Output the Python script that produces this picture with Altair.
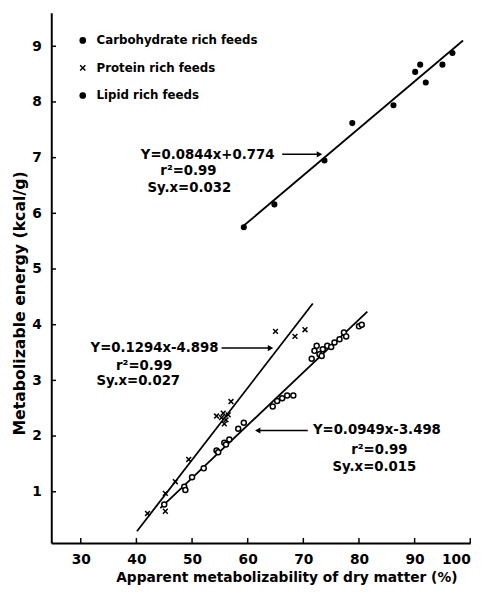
import altair as alt
import pandas as pd

FONT = "DejaVu Sans"

# ---------------- data ----------------
groups = ["Carbohydrate rich feeds", "Protein rich feeds", "Lipid rich feeds"]

carb_x = [45.0, 48.6, 48.8, 50.0, 52.1, 54.4, 54.7, 55.8, 56.1, 56.7, 58.3, 59.3,
          64.5, 65.3, 66.2, 67.1, 68.2, 71.5, 72.0, 72.4, 72.9, 73.3, 73.5, 74.3,
          75.0, 75.6, 76.5, 77.3, 77.7, 80.0, 80.5]
carb_y = [0.77, 1.09, 1.03, 1.26, 1.42, 1.74, 1.71, 1.88, 1.85, 1.94, 2.13, 2.24,
          2.53, 2.63, 2.68, 2.73, 2.73, 3.39, 3.53, 3.62, 3.47, 3.44, 3.56, 3.62,
          3.60, 3.68, 3.74, 3.86, 3.79, 3.97, 4.00]

prot_x = [42.0, 45.2, 45.2, 47.0, 49.4, 54.4, 55.3, 55.6, 56.1, 55.8, 56.5, 57.0,
          65.0, 68.5, 70.3]
prot_y = [0.61, 0.65, 0.97, 1.18, 1.58, 2.36, 2.33, 2.41, 2.29, 2.22, 2.38, 2.62,
          3.88, 3.79, 3.91]

lip_x = [59.3, 64.8, 73.8, 78.8, 86.2, 90.1, 91.0, 92.0, 95.0, 96.8]
lip_y = [5.75, 6.16, 6.95, 7.62, 7.94, 8.54, 8.67, 8.35, 8.67, 8.88]

# regression equations printed on the figure and the x-range each line spans
slopes = [0.0949, 0.1294, 0.0844]
intercepts = [-3.498, -4.898, 0.774]
line_x0 = [44.3, 40.1, 59.0]
line_x1 = [81.5, 71.7, 98.7]

# annotation texts
ann_text = [
    "Y=0.0844x+0.774", "r²=0.99", "Sy.x=0.032",
    "Y=0.1294x-4.898", "r²=0.99", "Sy.x=0.027",
    "Y=0.0949x-3.498", "r²=0.99", "Sy.x=0.015",
]
ann_x = [40.8, 44.3, 42.0, 54.75, 46.44, 47.85, 71.72, 78.61, 75.25]
ann_y = [7.05, 6.76, 6.46, 3.58, 3.26, 2.98, 2.10, 1.74, 1.44]
ann_align = ["left", "left", "left", "right", "right", "right", "left", "left", "left"]

# arrows (tail x, head x, y)
arr_x_tail = [66.2, 55.3, 70.8]
arr_x_head = [72.9, 64.1, 61.8]
arr_y = [7.06, 3.58, 2.10]
arr_dir = ["triangle-right", "triangle-right", "triangle-left"]

x_ticks = [30, 40, 50, 60, 70, 80, 90, 100]
y_ticks = [1, 2, 3, 4, 5, 6, 7, 8, 9]
X_MIN, X_MAX = 24.7, 100.0
Y_MIN, Y_MAX = 0.08, 9.6

# ---------------- tables ----------------
pts = pd.concat([
    pd.DataFrame({"x": carb_x, "y": carb_y, "g": groups[0]}),
    pd.DataFrame({"x": prot_x, "y": prot_y, "g": groups[1]}),
    pd.DataFrame({"x": lip_x, "y": lip_y, "g": groups[2]}),
], ignore_index=True)

line_rows = []
for g, m, b, a0, a1 in zip(groups, slopes, intercepts, line_x0, line_x1):
    line_rows.append({"g": g, "x": a0, "y": m * a0 + b})
    line_rows.append({"g": g, "x": a1, "y": m * a1 + b})
lines_df = pd.DataFrame(line_rows)

ann_df = pd.DataFrame({"t": ann_text, "x": ann_x, "y": ann_y, "a": ann_align})
arr_df = pd.DataFrame({"x": arr_x_tail, "x2": arr_x_head, "y": arr_y, "s": arr_dir})
xt_df = pd.DataFrame({"x": x_ticks, "y": Y_MIN, "y2": Y_MIN + 0.09})
yt_df = pd.DataFrame({"y": y_ticks, "x": X_MIN, "x2": X_MIN + 0.85})

xs = alt.Scale(domain=[X_MIN, X_MAX], nice=False, zero=False)
ys = alt.Scale(domain=[Y_MIN, Y_MAX], nice=False, zero=False)

xaxis = alt.Axis(values=x_ticks, format="d",
                 title="Apparent metabolizability of dry matter (%)",
                 ticks=False, grid=False, domainWidth=2, domainColor="black",
                 labelPadding=10, labelFontSize=14, labelFontWeight="bold",
                 labelColor="black", titleFontSize=14, titleFontWeight="bold",
                 titleColor="black", titleX=239, titleY=35, titleBaseline="middle")
yaxis = alt.Axis(values=y_ticks, format="d", title="Metabolizable energy (kcal/g)",
                 ticks=False, grid=False, domainWidth=2, domainColor="black",
                 labelPadding=10, labelFontSize=14, labelFontWeight="bold",
                 labelColor="black", titleFontSize=16, titleFontWeight="bold",
                 titleColor="black", titleX=-32, titleY=295, titleBaseline="middle",
                 titleAngle=270)

base_x = alt.X("x:Q", scale=xs, axis=xaxis)
base_y = alt.Y("y:Q", scale=ys, axis=yaxis)

lines = alt.Chart(lines_df).mark_line(color="black", strokeWidth=1.8).encode(
    x=base_x, y=base_y, detail="g:N")

shape_scale = alt.Scale(domain=groups,
                        range=["circle", "M-1,-1L1,1M1,-1L-1,1", "circle"])
points = alt.Chart(pts).mark_point(filled=False, stroke="black", strokeWidth=1.5,
                                   opacity=1).encode(
    x=alt.X("x:Q", scale=xs),
    y=alt.Y("y:Q", scale=ys),
    shape=alt.Shape("g:N", scale=shape_scale, sort=groups,
                    legend=alt.Legend(title=None, orient="none", legendX=26, legendY=22,
                                      labelFontSize=12, labelFontWeight="bold",
                                      labelColor="black", symbolSize=28,
                                      symbolStrokeColor="black", symbolFillColor="black",
                                      symbolStrokeWidth=1.5, labelOffset=8,
                                      rowPadding=16, padding=0, labelLimit=400)),
    fill=alt.Fill("g:N", scale=alt.Scale(domain=groups, range=["white", "black", "black"]),
                  legend=None),
    size=alt.Size("g:N", scale=alt.Scale(domain=groups, range=[26, 22, 40]), legend=None),
)

xticks = alt.Chart(xt_df).mark_rule(color="black", strokeWidth=1.5).encode(
    x=alt.X("x:Q", scale=xs), y=alt.Y("y:Q", scale=ys), y2="y2:Q")
yticks = alt.Chart(yt_df).mark_rule(color="black", strokeWidth=1.5).encode(
    y=alt.Y("y:Q", scale=ys), x=alt.X("x:Q", scale=xs), x2="x2:Q")

def ann_layer(align):
    return alt.Chart(ann_df[ann_df.a == align]).mark_text(
        align=align, baseline="middle", font=FONT, fontSize=13.5, fontWeight="bold",
        color="black").encode(
        x=alt.X("x:Q", scale=xs), y=alt.Y("y:Q", scale=ys), text="t:N")

arrows = alt.Chart(arr_df).mark_rule(color="black", strokeWidth=1.5).encode(
    x=alt.X("x:Q", scale=xs), x2="x2:Q", y=alt.Y("y:Q", scale=ys))
heads = alt.Chart(arr_df).mark_point(filled=True, color="black", size=40, opacity=1).encode(
    x=alt.X("x2:Q", scale=xs), y=alt.Y("y:Q", scale=ys),
    shape=alt.Shape("s:N", scale=None, legend=None))

chart = alt.layer(lines, xticks, yticks, arrows, heads, ann_layer("left"),
                  ann_layer("right"), points).resolve_scale(
    shape="independent").properties(
    width=426, height=539,
    autosize=alt.AutoSizeParams(type="none"),
    padding={"left": 44, "top": 0, "right": 16, "bottom": 51},
).configure(font=FONT).configure_view(stroke=None)

chart.save("out.html", embed_options={"renderer": "svg", "actions": False})
